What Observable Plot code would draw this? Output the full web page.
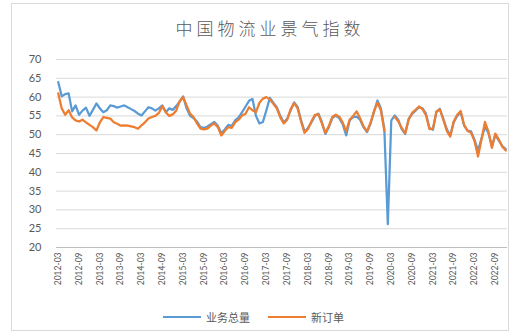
<!DOCTYPE html>
<html>
<head>
<meta charset="utf-8">
<script src="https://cdn.jsdelivr.net/npm/d3@7"></script>
<script src="https://cdn.jsdelivr.net/npm/@observablehq/plot@0.6"></script>
<style>
  html, body { margin: 0; padding: 0; background: #fff; }
  #chart { position: relative; width: 516px; height: 336px; overflow: hidden; font-family: Lato, "Noto Sans CJK SC", sans-serif; }
  #frame { position: absolute; left: 11px; top: 3px; width: 498px; height: 328px; border: 1px solid #d9d9d9; box-sizing: border-box; }
  #title { position: absolute; left: 0; width: 540px; top: 18px; text-align: center; font-family: "Noto Sans CJK SC", sans-serif; font-weight: 300; font-size: 17px; line-height: 20px; color: #595959; letter-spacing: 4px; }
  #legend { position: absolute; top: 309px; left: 163px; display: flex; align-items: center; font-family: "Noto Sans CJK SC", sans-serif; font-size: 11px; color: #595959; }
  .item { display: flex; align-items: center; margin-right: 18px; }
  .swatch { width: 38px; height: 2.5px; margin-right: 5px; }
  #plot { position: absolute; left: 0; top: 0; }
</style>
</head>
<body>
<div id="chart">
  <div id="frame"></div>
  <div id="plot"></div>
  <div id="title">中国物流业景气指数</div>
  <div id="legend"></div>
</div>
<script>
// Monthly categories, March 2012 through December 2022
const months = d3.utcMonth.range(new Date(Date.UTC(2012, 2, 1)), new Date(Date.UTC(2023, 0, 1)))
  .map(d3.utcFormat("%Y-%m"));

// Every sixth month gets a label on the category axis
const xTickLabels = [
  "2012-03", "2012-09", "2013-03", "2013-09", "2014-03", "2014-09", "2015-03", "2015-09",
  "2016-03", "2016-09", "2017-03", "2017-09", "2018-03", "2018-09", "2019-03", "2019-09",
  "2020-03", "2020-09", "2021-03", "2021-09", "2022-03", "2022-09"
];

const yTicks = [20, 25, 30, 35, 40, 45, 50, 55, 60, 65, 70];

const seriesNames = ["业务总量", "新订单"];
const seriesColors = ["#5B9BD5", "#ED7D31"];

// 业务总量 (business volume index), one value per month
const businessVolume = [
  64.0, 60.2, 60.8, 61.0, 56.2, 57.8, 55.3, 56.4, 57.2, 55.0,
  56.6, 58.3, 57.0, 56.0, 56.5, 57.8, 57.6, 57.2, 57.5, 57.8,
  57.3, 56.8, 56.3, 55.6, 55.1, 56.2, 57.3, 57.0, 56.4, 57.0,
  57.8, 56.0, 57.0, 56.6, 57.6, 58.8, 60.2, 57.0, 55.0, 54.4,
  53.5, 52.0, 51.8, 52.2, 52.8, 53.4, 52.4, 50.4, 51.4, 52.6,
  52.3, 53.8, 54.6, 56.0, 57.5, 59.0, 59.5, 55.0, 53.0, 53.4,
  56.5, 59.8, 58.5, 57.3, 55.0, 53.3, 54.2, 56.5, 58.6, 57.4,
  53.8, 50.8, 51.8, 53.3, 55.0, 55.6, 53.3, 50.2, 52.0, 54.4,
  55.1, 54.4, 52.8, 49.8, 53.8, 54.7, 54.8, 54.0, 52.0, 50.7,
  52.9, 56.0, 59.1, 57.0, 51.5, 26.2, 53.8, 55.1, 54.0, 51.5,
  50.2, 54.2, 55.5, 56.4, 57.3, 57.0, 55.6, 51.8, 51.3, 56.0,
  56.9, 54.2, 51.5, 49.8, 53.3, 55.0, 56.0, 52.4, 51.1, 50.9,
  48.6, 45.8, 49.0, 52.0, 50.5, 46.9, 50.0, 48.4, 47.0, 46.2
];

// 新订单 (new orders index); two months are missing in early 2020
const newOrders = [
  61.0, 57.0, 55.3, 56.5, 54.6, 53.8, 53.5, 54.0, 53.3, 52.6,
  52.0, 51.1, 53.3, 54.7, 54.5, 54.3, 53.3, 52.9, 52.4, 52.5,
  52.4, 52.2, 52.0, 51.6, 52.5, 53.3, 54.3, 54.7, 55.0, 55.8,
  57.6, 56.0, 55.0, 55.4, 56.4, 58.9, 60.0, 57.8, 55.6, 54.7,
  53.0, 51.6, 51.4, 51.6, 52.4, 53.0, 52.0, 49.8, 51.0, 52.0,
  51.8, 53.3, 54.0, 55.1, 55.6, 57.3, 56.5, 56.0, 58.5, 59.6,
  60.0, 59.4, 58.2, 57.0, 54.6, 53.0, 54.0, 56.8, 58.4, 57.0,
  53.5, 50.5, 51.5, 53.6, 55.3, 55.4, 53.0, 50.5, 52.3, 54.7,
  55.3, 54.8, 53.2, 50.9, 54.0, 55.0, 56.2, 54.4, 52.2, 50.9,
  53.1, 56.2, 58.5, 56.5, 51.0, null, null, 54.7, 53.6, 51.8,
  50.4, 54.0, 55.8, 56.6, 57.5, 56.8, 55.2, 51.5, 51.6, 56.2,
  56.7, 54.0, 51.0, 49.5, 53.5, 55.3, 56.3, 52.6, 51.0, 50.5,
  48.3, 44.2, 48.7, 53.4, 50.8, 46.5, 50.3, 48.7, 46.8, 45.8
];

const rows = [];
months.forEach((m, i) => {
  rows.push({month: m, value: businessVolume[i], series: seriesNames[0]});
});
months.forEach((m, i) => {
  rows.push({month: m, value: newOrders[i], series: seriesNames[1]});
});

const chart = Plot.plot({
  width: 516,
  height: 336,
  marginTop: 59,
  marginBottom: 89,
  marginLeft: 56,
  marginRight: 9,
  style: {background: "transparent", fontFamily: "Lato, sans-serif", color: "#595959"},
  x: {type: "point", domain: months, padding: 0.5},
  y: {domain: [20, 70]},
  color: {domain: seriesNames, range: seriesColors},
  marks: [
    Plot.gridY(yTicks, {stroke: "#d9d9d9", strokeOpacity: 1, strokeWidth: 1}),
    Plot.ruleY([20], {stroke: "#bfbfbf", strokeWidth: 1}),
    Plot.axisY(yTicks, {tickSize: 0, tickPadding: 15, fontSize: 11, fill: "#595959", label: null}),
    Plot.axisX(xTickLabels, {tickSize: 0, tickPadding: 5, tickRotate: -90, fontSize: 8.5, fill: "#595959", label: null}),
    Plot.line(rows, {
      x: "month", y: "value", z: "series", stroke: "series",
      strokeWidth: 2.25, strokeLinejoin: "round", strokeLinecap: "round", curve: "linear"
    })
  ]
});
document.getElementById("plot").appendChild(chart);

// Legend below the plot
const legend = document.getElementById("legend");
seriesNames.forEach((name, i) => {
  const item = document.createElement("div");
  item.className = "item";
  const sw = document.createElement("div");
  sw.className = "swatch";
  sw.style.background = seriesColors[i];
  const label = document.createElement("span");
  label.textContent = name;
  item.appendChild(sw);
  item.appendChild(label);
  legend.appendChild(item);
});
</script>
</body>
</html>
